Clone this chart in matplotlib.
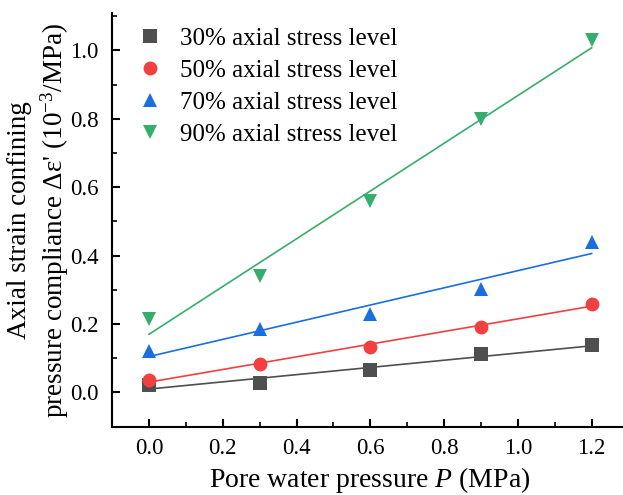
import numpy as np
import matplotlib.pyplot as plt
from matplotlib.ticker import MultipleLocator

# data
pressure = [0.0, 0.3, 0.6, 0.9, 1.2]
s30 = [0.022, 0.029, 0.065, 0.111, 0.139]
s50 = [0.037, 0.083, 0.134, 0.192, 0.260]
s70 = [0.122, 0.185, 0.229, 0.302, 0.440]
s90 = [0.215, 0.339, 0.559, 0.800, 1.031]

labels = ["30% axial stress level", "50% axial stress level",
          "70% axial stress level", "90% axial stress level"]
colors = ["#4f4f4f", "#f14040", "#1a6fdf", "#37ad6b"]
markers = ["s", "o", "^", "v"]

plt.rcParams["font.family"] = ["Liberation Serif", "DejaVu Serif"]
plt.rcParams["mathtext.fontset"] = "custom"
plt.rcParams["mathtext.rm"] = "Liberation Serif"
plt.rcParams["mathtext.it"] = "Liberation Serif:italic"

fig = plt.figure(figsize=(6.23, 4.95), dpi=100)
ax = fig.add_axes([0.18, 0.138, 0.82, 0.835])

x = np.array(pressure)
for ys, lab, c, m in zip([s30, s50, s70, s90], labels, colors, markers):
    ax.plot(x, ys, linestyle="none", marker=m, ms=10, color=c,
            markeredgewidth=0, label=lab)
    # linear fit of each series
    k, b = np.polyfit(x, ys, 1)
    ax.plot(x[[0, -1]], k * x[[0, -1]] + b, color=c, lw=1.2)

ax.set_xlim(-0.1, 1.285)
ax.set_ylim(-0.1, 1.108)
ax.xaxis.set_major_locator(MultipleLocator(0.2))
ax.xaxis.set_minor_locator(MultipleLocator(0.1))
ax.yaxis.set_major_locator(MultipleLocator(0.2))
ax.yaxis.set_minor_locator(MultipleLocator(0.1))
ax.xaxis.set_major_formatter(lambda v, p: f"{v:.1f}")
ax.yaxis.set_major_formatter(lambda v, p: f"{v:.1f}")

for s in ["top", "right"]:
    ax.spines[s].set_visible(False)
for s in ["left", "bottom"]:
    ax.spines[s].set_linewidth(1.5)
ax.tick_params(which="major", direction="in", length=6, width=1.5,
               labelsize=16.5)
ax.tick_params(which="minor", direction="in", length=3.5, width=1.2)
ax.tick_params(axis="x", pad=8)
ax.tick_params(axis="y", pad=10)

ax.set_xlabel("Pore water pressure $\\it{P}$ (MPa)", fontsize=20,
              va="baseline")
ax.xaxis.set_label_coords(0.505, -0.145)
ax.set_ylabel("Axial strain confining\npressure compliance Δε' (10$^{\\mathrm{-3}}$/MPa)",
              fontsize=19.5, linespacing=1.3)
ax.yaxis.set_label_coords(-0.08, 0.5)

ax.legend(loc="upper left", bbox_to_anchor=(0.0, 1.02), frameon=False,
          fontsize=18, handletextpad=0.6, labelspacing=0.38,
          handlelength=1.2)

fig.savefig("out.png", dpi=100)
